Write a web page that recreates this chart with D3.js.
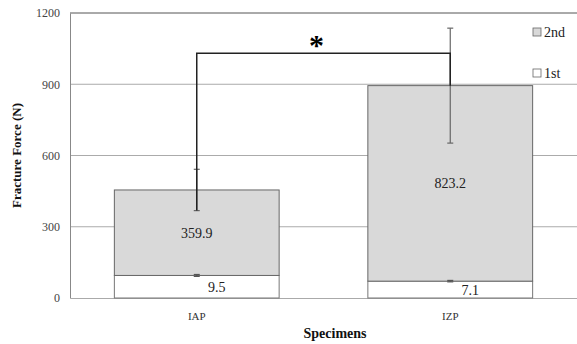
<!DOCTYPE html>
<html><head><meta charset="utf-8">
<script src="https://cdn.jsdelivr.net/npm/d3@7"></script>
<style>body{margin:0;background:#fff}</style>
</head><body>
<script>
const categories = ["IAP", "IZP"];
const series = ["1st", "2nd"];
const firstValues = [95, 71];
const secondValues = [359.9, 823.2];
const firstErr = [4, 3];
const secondErr = [87, 242];
const firstLabels = ["9.5", "7.1"];
const secondLabels = ["359.9", "823.2"];
const yTicks = [0, 300, 600, 900, 1200];
const bracketValue = 1031;

const FONT = "Liberation Serif";
const W = 577, H = 344;
const m = {left: 70, right: 0, top: 13, bottom: 46};
const svg = d3.select("body").append("svg").attr("width", W).attr("height", H)
  .attr("font-family", FONT);

const x = d3.scaleBand().domain(categories).range([m.left, W - m.right]).paddingInner(0.35).paddingOuter(0.175);
const y = d3.scaleLinear().domain([0, 1200]).range([H - m.bottom, m.top]);

// gridlines
svg.append("g").selectAll("line").data(yTicks.filter(t => t > 0 && t < 1200)).join("line")
  .attr("x1", m.left).attr("x2", W - m.right).attr("y1", d => y(d)).attr("y2", d => y(d))
  .attr("stroke", "#ababab").attr("stroke-width", 1);
// top border
svg.append("line").attr("x1", m.left).attr("x2", W).attr("y1", y(1200)).attr("y2", y(1200))
  .attr("stroke", "#555").attr("stroke-width", 1);

// y axis
const yAxis = svg.append("g").attr("transform", `translate(${m.left},0)`)
  .call(d3.axisLeft(y).tickValues(yTicks).tickFormat(d3.format("d")).tickSize(0).tickPadding(10));
yAxis.attr("font-family", null).attr("font-size", null);
yAxis.select(".domain").attr("stroke", "#888");
yAxis.selectAll("text").attr("font-size", 12).attr("fill", "#444").attr("font-family", FONT);

// x axis
const xAxis = svg.append("g").attr("transform", `translate(0,${y(0)})`)
  .call(d3.axisBottom(x).tickSize(0).tickPadding(14));
xAxis.attr("font-family", null).attr("font-size", null);
xAxis.select(".domain").attr("stroke", "#aaa");
xAxis.selectAll("text").attr("font-size", 11).attr("fill", "#333").attr("font-family", FONT);

// bars
const bw = x.bandwidth();
categories.forEach((c, i) => {
  const x0 = x(c);
  svg.append("rect").attr("x", x0).attr("width", bw)
    .attr("y", y(firstValues[i])).attr("height", y(0) - y(firstValues[i]))
    .attr("fill", "#fff").attr("stroke", "#777").attr("stroke-width", 1);
  const top = firstValues[i] + secondValues[i];
  svg.append("rect").attr("x", x0).attr("width", bw)
    .attr("y", y(top)).attr("height", y(firstValues[i]) - y(top))
    .attr("fill", "#d9d9d9").attr("stroke", "#666").attr("stroke-width", 1);
});

// error bars
function errBar(cx, v, e, color) {
  const g = svg.append("g").attr("stroke", color).attr("stroke-width", 1.2);
  g.append("line").attr("x1", cx).attr("x2", cx).attr("y1", y(v - e)).attr("y2", y(v + e));
  [v - e, v + e].forEach(t => g.append("line").attr("x1", cx - 3).attr("x2", cx + 3).attr("y1", y(t)).attr("y2", y(t)));
}
categories.forEach((c, i) => {
  const cx = x(c) + bw / 2;
  errBar(cx, firstValues[i], firstErr[i], "#555");
  errBar(cx, firstValues[i] + secondValues[i], secondErr[i], "#666");
});

// significance bracket
const cx0 = x(categories[0]) + bw / 2, cx1 = x(categories[1]) + bw / 2;
const b0 = firstValues[0] + secondValues[0] - secondErr[0];
const b1 = firstValues[1] + secondValues[1];
svg.append("path")
  .attr("d", `M${cx0},${y(b0)}V${y(bracketValue)}H${cx1}V${y(b1)}`)
  .attr("fill", "none").attr("stroke", "#222").attr("stroke-width", 1.5);
svg.append("text").attr("x", (cx0 + cx1) / 2 - 7).attr("y", y(bracketValue) + 2)
  .attr("text-anchor", "middle").attr("font-size", 30).attr("font-weight", "bold")
  .attr("font-family", FONT).text("*");

// data labels
categories.forEach((c, i) => {
  const cx = x(c) + bw / 2;
  svg.append("text").attr("x", cx).attr("y", y(firstValues[i] + secondValues[i] / 2) + 5)
    .attr("text-anchor", "middle").attr("font-size", 14).attr("fill", "#222").attr("font-family", FONT).text(secondLabels[i]);
  svg.append("text").attr("x", cx + 20).attr("y", y(firstValues[i] / 2) + 5)
    .attr("text-anchor", "middle").attr("font-size", 14).attr("fill", "#222").attr("font-family", FONT).text(firstLabels[i]);
});

// legend
const legendItems = ["2nd", "1st"];
const legendFill = {"2nd": "#d9d9d9", "1st": "#fff"};
legendItems.forEach((s, i) => {
  const ly = 32 + i * 41;
  svg.append("rect").attr("x", 533).attr("y", ly - 4).attr("width", 8).attr("height", 8)
    .attr("fill", legendFill[s]).attr("stroke", "#666").attr("stroke-width", 0.8);
  svg.append("text").attr("x", 544).attr("y", ly + 5).attr("font-size", 14).attr("fill", "#222").attr("font-family", FONT).text(s);
});

// axis titles
svg.append("text").attr("transform", `translate(21,${(y(0) + y(1200)) / 2}) rotate(-90)`)
  .attr("text-anchor", "middle").attr("font-size", 13).attr("font-weight", "bold").attr("fill", "#111")
  .attr("font-family", FONT).text("Fracture Force (N)");
svg.append("text").attr("x", 335).attr("y", 338).attr("text-anchor", "middle")
  .attr("font-size", 14).attr("font-weight", "bold").attr("fill", "#111").attr("font-family", FONT).text("Specimens");
</script>
</body></html>
